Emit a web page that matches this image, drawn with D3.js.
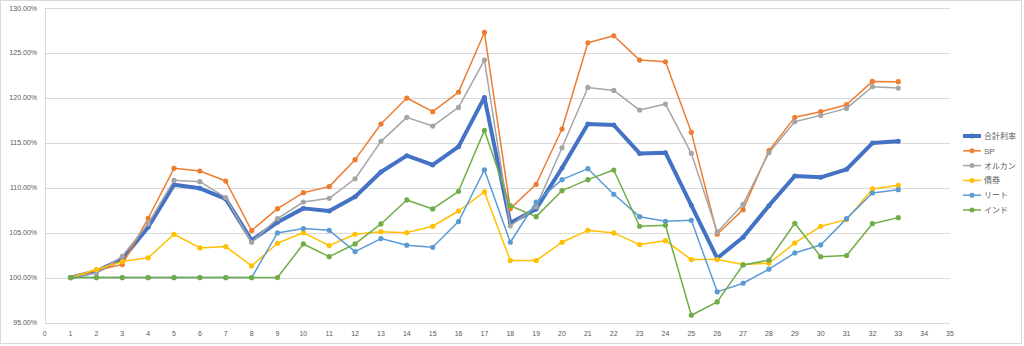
<!DOCTYPE html>
<html>
<head>
<meta charset="utf-8">
<script src="https://cdn.jsdelivr.net/npm/d3@7"></script>
<style>
  html, body { margin: 0; padding: 0; background: #fff; }
  svg { display: block; }
  text { font-family: "Liberation Sans", "Noto Sans CJK JP", sans-serif; fill: #595959; }
</style>
</head>
<body>
<svg id="chart" width="1024" height="346"></svg>
<script>
// Period numbers on the horizontal axis
const periods = d3.range(1, 34);

// Growth of each holding, in percent of the starting value
const total = [100, 100.7, 102.07, 105.6, 110.34, 109.93, 108.75, 104.15, 106.15, 107.7, 107.41, 109.0,
  111.75, 113.57, 112.53, 114.57, 120.05, 106.08, 107.64, 112.19, 117.09, 116.98, 113.82, 113.9,
  108.04, 102.15, 104.48, 108.0, 111.3, 111.16, 112.05, 114.97, 115.16];
const sp = [100, 100.8, 101.45, 106.6, 112.16, 111.86, 110.75, 105.23, 107.67, 109.45, 110.12, 113.12,
  117.09, 119.98, 118.46, 120.64, 127.28, 107.67, 110.38, 116.53, 126.13, 126.91, 124.2, 124.02,
  116.16, 104.82, 107.56, 114.12, 117.83, 118.46, 119.24, 121.83, 121.8];
const allCountry = [100, 100.5, 102.37, 106.0, 110.82, 110.67, 108.9, 103.93, 106.56, 108.41, 108.82, 111.0,
  115.16, 117.83, 116.86, 118.94, 124.2, 105.74, 107.89, 114.45, 121.16, 120.83, 118.64, 119.31,
  113.82, 105.08, 108.15, 113.9, 117.35, 118.05, 118.83, 121.24, 121.09];
const bonds = [100, 100.9, 101.78, 102.2, 104.82, 103.3, 103.45, 101.3, 103.82, 105.0, 103.56, 104.82,
  105.11, 105.0, 105.71, 107.41, 109.53, 101.89, 101.89, 103.93, 105.26, 104.97, 103.67, 104.11,
  102.0, 102.0, 101.45, 101.59, 103.85, 105.71, 106.45, 109.86, 110.27];
const reit = [100, 100, 100, 100, 100, 100, 100, 100, 104.97, 105.45, 105.26, 102.89,
  104.34, 103.6, 103.37, 106.23, 112.0, 103.93, 108.41, 110.9, 112.12, 109.27, 106.78, 106.26,
  106.37, 98.41, 99.37, 100.93, 102.74, 103.63, 106.56, 109.41, 109.78];
const india = [100, 100, 100, 100, 100, 100, 100, 100, 100, 103.74, 102.33, 103.74,
  105.97, 108.64, 107.64, 109.6, 116.38, 108.0, 106.78, 109.67, 110.9, 111.97, 105.71, 105.82,
  95.81, 97.29, 101.41, 101.93, 106.04, 102.33, 102.45, 106.0, 106.67];

const seriesNames = ["合計利率", "SP", "オルカン", "債券", "リート", "インド"];
const seriesValues = [total, sp, allCountry, bonds, reit, india];
const seriesColors = ["#4472C4", "#ED7D31", "#A5A5A5", "#FFC000", "#5B9BD5", "#70AD47"];

const xTicks = d3.range(0, 36);
const yTicks = [0.95, 1.00, 1.05, 1.10, 1.15, 1.20, 1.25, 1.30];

const svg = d3.select("#chart");
const W = 1024, H = 346;

// chart frame
svg.append("rect").attr("x", 0.5).attr("y", 0.5).attr("width", W - 3).attr("height", H - 3)
  .attr("fill", "#fff").attr("stroke", "#d9d9d9");

const plot = { left: 44.7, right: 950, top: 8, bottom: 322.5 };
const x = d3.scaleLinear().domain([0, 35]).range([plot.left, plot.right]);
const y = d3.scaleLinear().domain([0.95, 1.30]).range([plot.bottom, plot.top]);

// horizontal gridlines
svg.append("g").selectAll("line").data(yTicks).join("line")
  .attr("x1", plot.left).attr("x2", plot.right)
  .attr("y1", d => Math.round(y(d)) + 0.5).attr("y2", d => Math.round(y(d)) + 0.5)
  .attr("stroke", "#d9d9d9").attr("stroke-width", 1);

// vertical axis line at x = 0
svg.append("line")
  .attr("x1", Math.round(x(0)) + 0.5).attr("x2", Math.round(x(0)) + 0.5)
  .attr("y1", plot.top).attr("y2", plot.bottom)
  .attr("stroke", "#d9d9d9");

// y tick labels
const fmtPct = d3.format(".2%");
svg.append("g").selectAll("text").data(yTicks).join("text")
  .attr("x", 37).attr("y", d => y(d) + 2.5)
  .attr("text-anchor", "end").attr("font-size", 7)
  .text(d => fmtPct(d));

// x tick labels
svg.append("g").selectAll("text").data(xTicks).join("text")
  .attr("x", d => x(d)).attr("y", 336)
  .attr("text-anchor", "middle").attr("font-size", 7)
  .text(d => d);

// series lines and markers
const line = d3.line().x((d, i) => x(periods[i])).y(d => y(d / 100));
seriesValues.forEach((vals, si) => {
  const g = svg.append("g");
  const thick = si === 0;
  g.append("path").datum(vals)
    .attr("d", line).attr("fill", "none")
    .attr("stroke", seriesColors[si])
    .attr("stroke-width", thick ? 4 : 1.5)
    .attr("stroke-linejoin", "round");
  g.selectAll("circle").data(vals).join("circle")
    .attr("cx", (d, i) => x(periods[i])).attr("cy", d => y(d / 100))
    .attr("r", thick ? 2.5 : 2.6)
    .attr("fill", seriesColors[si]);
});

// legend
const legend = svg.append("g");
seriesNames.forEach((name, i) => {
  const ly = 136 + i * 14.8;
  legend.append("line").attr("x1", 963).attr("x2", 981).attr("y1", ly).attr("y2", ly)
    .attr("stroke", seriesColors[i]).attr("stroke-width", i === 0 ? 4 : 1.5);
  legend.append("circle").attr("cx", 972).attr("cy", ly).attr("r", 2.5).attr("fill", seriesColors[i]);
  legend.append("text").attr("x", 984).attr("y", ly + 3)
    .attr("font-size", 8).text(name);
});
</script>
</body>
</html>
